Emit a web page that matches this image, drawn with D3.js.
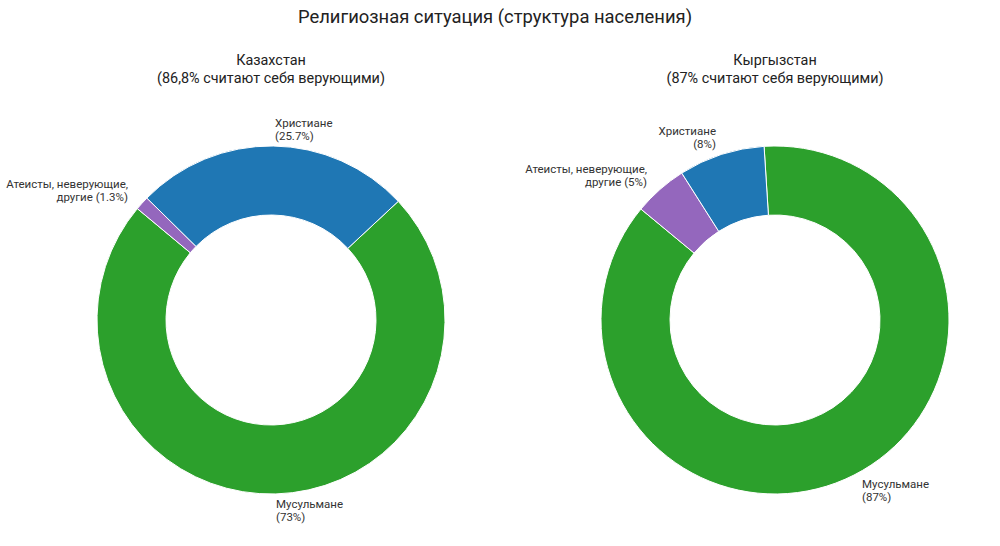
<!DOCTYPE html>
<meta charset="utf-8">
<script src="https://cdn.jsdelivr.net/npm/d3@7"></script>
<style>
    body { margin: 0; background: #fff; }
    text { font-family: Roboto, "Noto Sans", sans-serif; }
</style>
<div id="chart"></div>
<script>
    // data
    const categories = ["Мусульмане", "Атеисты, неверующие, другие", "Христиане"];
    const kzValues = [73, 1.3, 25.7];
    const kgValues = [87, 5, 8];
    const countries = ["Казахстан", "Кыргызстан"];
    const believers = ["86,8%", "87%"];

    const width = 1000, height = 546;
    const colors = ["#2ca02c", "#9467bd", "#1f77b4"];

    const svg = d3.select("#chart").append("svg")
        .attr("width", width)
        .attr("height", height);

    svg.append("text")
        .attr("x", 495)
        .attr("y", 23)
        .attr("text-anchor", "middle")
        .style("font-size", "18.4px")
        .style("fill", "#222")
        .text("Религиозная ситуация (структура населения)");

    // layout for each donut: centre, start angle (deg) and label placement
    const layout = [
        {
            cx: 271, cy: 320, start: 47,
            labels: [
                {x: 276, y: 508, anchor: "start", lines: ["Мусульмане", "(%v%)"]},
                {x: 128, y: 188, anchor: "end", lines: ["Атеисты, неверующие,", "другие (%v%)"]},
                {x: 275, y: 127, anchor: "start", lines: ["Христиане", "(%v%)"]}
            ]
        },
        {
            cx: 775, cy: 320, start: -3.6,
            labels: [
                {x: 862, y: 488, anchor: "start", lines: ["Мусульмане", "(%v%)"]},
                {x: 647, y: 173, anchor: "end", lines: ["Атеисты, неверующие,", "другие (%v%)"]},
                {x: 716, y: 135, anchor: "end", lines: ["Христиане", "(%v%)"]}
            ]
        }
    ];

    const allValues = [kzValues, kgValues];

    const arc = d3.arc()
        .innerRadius(105)
        .outerRadius(174);

    allValues.forEach((values, i) => {
        const L = layout[i];
        const a0 = L.start * Math.PI / 180;
        const pie = d3.pie()
            .sort(null)
            .value(d => d)
            .startAngle(a0)
            .endAngle(a0 + 2 * Math.PI);

        const g = svg.append("g");

        const sub = g.append("text")
            .attr("x", L.cx)
            .attr("y", 65)
            .attr("text-anchor", "middle")
            .style("font-size", "14.4px")
            .style("fill", "#222");
        sub.append("tspan").attr("x", L.cx).text(countries[i]);
        sub.append("tspan").attr("x", L.cx).attr("dy", 18)
            .text("(" + believers[i] + " считают себя верующими)");

        g.append("g")
            .attr("transform", `translate(${L.cx},${L.cy})`)
            .selectAll("path")
            .data(pie(values))
            .enter()
            .append("path")
            .attr("d", arc)
            .attr("fill", (d, j) => colors[j])
            .attr("stroke", "#fff")
            .attr("stroke-width", 1);

        L.labels.forEach((lab, j) => {
            const t = g.append("text")
                .attr("x", lab.x)
                .attr("y", lab.y)
                .attr("text-anchor", lab.anchor)
                .style("font-size", "11.5px")
                .style("fill", "#333");
            lab.lines.forEach((ln, k) => {
                t.append("tspan")
                    .attr("x", lab.x)
                    .attr("dy", k === 0 ? 0 : 12.5)
                    .text(ln.replace("%v", values[j]));
            });
        });
    });
</script>
